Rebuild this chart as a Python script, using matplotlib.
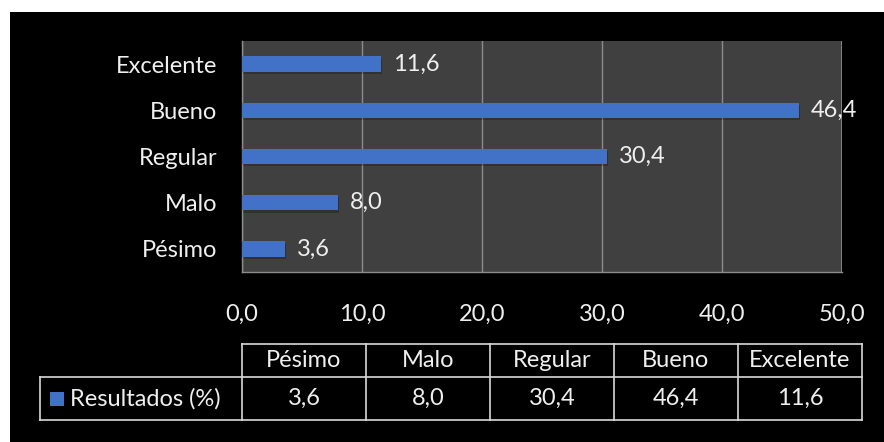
import numpy as np
import matplotlib.pyplot as plt
from matplotlib.patches import Rectangle

# data
categorias = ["Pésimo", "Malo", "Regular", "Bueno", "Excelente"]
resultados = [3.6, 8.0, 30.4, 46.4, 11.6]
serie = "Resultados (%)"
xticks = [0, 10, 20, 30, 40, 50]

def coma(v):
    return ("%.1f" % v).replace(".", ",")

plt.rcParams['font.family'] = ['Lato', 'DejaVu Sans']
txt = '#efefef'
azul = '#4172c8'
fs = 17

W, H = 884, 442
fig = plt.figure(figsize=(W/100, H/100), dpi=100, facecolor='white')

# black background panel
fig.patches.append(Rectangle((10/W, 0), 1, 1-12/H, transform=fig.transFigure,
                             facecolor='black', edgecolor='none', zorder=-10))

####################### bar chart
ax = fig.add_axes([242/W, 1-272/H, 600/W, 231/H])
ax.set_facecolor('#404040')
y = np.arange(len(categorias))
# soft shadow under the bars
ax.barh(y-0.05, resultados, height=0.33, left=0.1, color='black', alpha=0.22, zorder=2)
ax.barh(y, resultados, height=0.33, color=azul, zorder=3)
for yi, v in zip(y, resultados):
    ax.text(v+1.0, yi, coma(v), color=txt, fontsize=fs, va='center', ha='left', zorder=4)

ax.set_xlim(0, 50)
ax.set_ylim(-0.5, len(categorias)-0.5)
ax.set_xticks(xticks)
ax.set_xticklabels([coma(t) for t in xticks], color=txt, fontsize=fs)
ax.set_yticks(y)
ax.set_yticklabels(categorias, color=txt, fontsize=fs)
ax.tick_params(length=0)
ax.tick_params(axis='x', pad=23)
ax.tick_params(axis='y', pad=18)
ax.grid(axis='x', color='#8c8c8c', linewidth=1.0, zorder=1)
ax.set_axisbelow(True)
for s in ['top', 'right']:
    ax.spines[s].set_visible(False)
for s in ['left', 'bottom']:
    ax.spines[s].set_color('#8c8c8c')
    ax.spines[s].set_linewidth(1.0)
ax.axvline(50, color='#8c8c8c', linewidth=1.2, zorder=1)

####################### data table under the chart
tb = fig.add_axes([0, 0, 1, 1])
tb.set_xlim(0, W)
tb.set_ylim(H, 0)
tb.axis('off')
x_cols = 242 + 124*np.arange(len(categorias)+1)
y_top, y_mid, y_bot = 344, 377, 420
x_left = 40
lc = '#d9d9d9'
lw = 1.2
tb.plot([x_cols[0], x_cols[-1]], [y_top, y_top], color=lc, lw=lw)
tb.plot([x_left, x_cols[-1]], [y_mid, y_mid], color=lc, lw=lw)
tb.plot([x_left, x_cols[-1]], [y_bot, y_bot], color=lc, lw=lw)
tb.plot([x_left, x_left], [y_mid, y_bot], color=lc, lw=lw)
for xc in x_cols:
    tb.plot([xc, xc], [y_top, y_bot], color=lc, lw=lw)
for i, (c, v) in enumerate(zip(categorias, resultados)):
    xm = (x_cols[i]+x_cols[i+1])/2
    tb.text(xm, (y_top+y_mid)/2, c, color=txt, fontsize=fs, ha='center', va='center')
    tb.text(xm, (y_mid+y_bot)/2, coma(v), color=txt, fontsize=fs, ha='center', va='center')
tb.add_patch(Rectangle((50, 392), 14, 14, facecolor=azul, edgecolor='none'))
tb.text(70, (y_mid+y_bot)/2, serie, color=txt, fontsize=fs, ha='left', va='center')

fig.savefig('out.png', dpi=100, facecolor='white')
